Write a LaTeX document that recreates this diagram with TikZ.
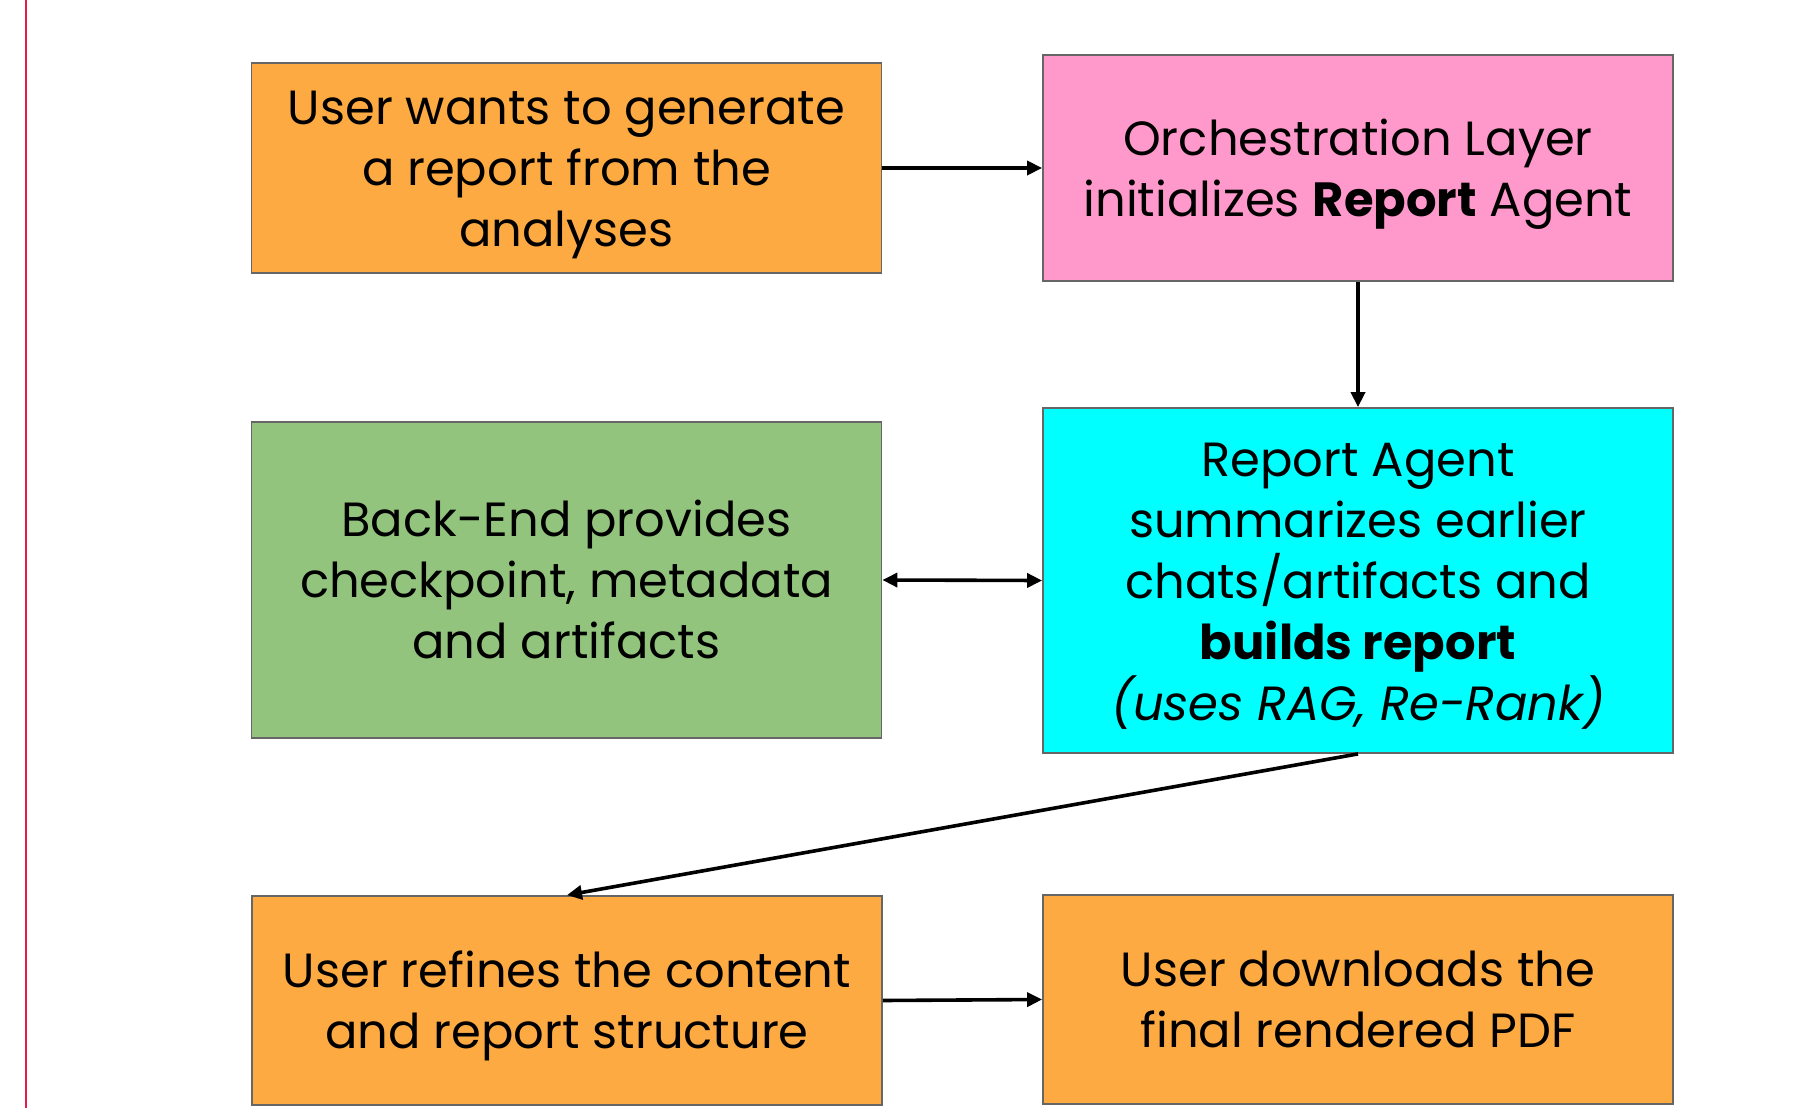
\documentclass[tikz,border=0pt]{standalone}
\usepackage{fontspec}
\setmainfont{Poppins}
\usetikzlibrary{arrows.meta}
\definecolor{boxgray}{HTML}{666666}
\definecolor{orng}{HTML}{FDAA43}
\definecolor{pnk}{HTML}{FF99CC}
\definecolor{grn}{HTML}{93C47D}
\definecolor{cyn}{HTML}{00FFFF}
\definecolor{redline}{HTML}{E8194B}
\newcommand{\fstrut}{\rule{0pt}{51pt}}
\newcommand{\lstrut}{\rule[-16pt]{0pt}{16pt}}
\begin{document}
\begin{tikzpicture}[x=1pt,y=-1pt,
  box/.style={draw=boxgray, line width=1.8pt, align=center, inner sep=0pt,
    font=\fontsize{48}{61}\selectfont, minimum width=630pt},
  arr/.style={-{Triangle[length=15pt,width=14pt]}, line width=3.6pt},
  darr/.style={{Triangle[length=15pt,width=14pt]}-{Triangle[length=15pt,width=14pt]}, line width=3.6pt}]
\useasboundingbox (0,0) rectangle (1797,1108);
\fill[white] (0,0) rectangle (1797,1108);
\draw[redline, line width=2pt] (26,0) -- (26,1108);
\node[box, fill=orng, minimum height=210pt] (b1) at (566.5,168) {\fstrut User wants to generate\\a report from the\\analyses\lstrut};
\node[box, fill=pnk, minimum height=226pt] (b2) at (1358,168) {\fstrut Orchestration Layer\\initializes \textbf{Report} Agent\lstrut};
\node[box, fill=grn, minimum height=316pt] (b3) at (566.5,580) {\fstrut Back-End provides\\checkpoint, metadata\\and artifacts\lstrut};
\node[box, fill=cyn, minimum height=345pt] (b4) at (1358,580.5) {\fstrut Report Agent\\summarizes earlier\\chats/artifacts and\\\textbf{builds report}\\\textit{(uses RAG, Re-Rank)}\lstrut};
\node[box, fill=orng, minimum height=209pt] (b5) at (567,1000.5) {\fstrut User refines the content\\and report structure\lstrut};
\node[box, fill=orng, minimum height=209pt] (b6) at (1358,999.5) {\fstrut User downloads the\\final rendered PDF\lstrut};
\draw[arr] (b1.east) -- (b2.west);
\draw[arr] (b2.south) -- (b4.north);
\draw[darr] (b3.east) -- (b4.west);
\draw[arr] (b4.south) -- (b5.north);
\draw[arr] (b5.east) -- (b6.west);
\end{tikzpicture}
\end{document}
